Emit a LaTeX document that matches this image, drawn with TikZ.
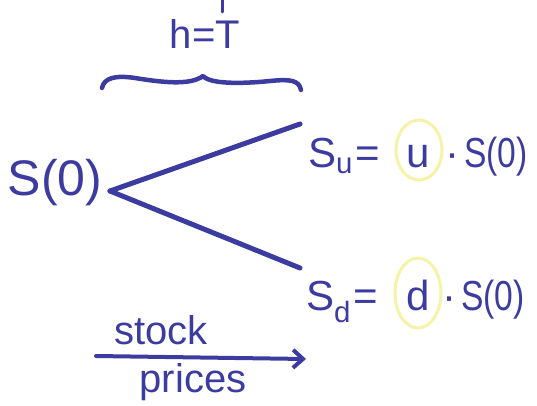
\documentclass[tikz,border=0pt]{standalone}
\usepackage{fontspec}
\setmainfont{Liberation Sans}
\usetikzlibrary{arrows.meta}
\definecolor{ink}{HTML}{3C3CA0}
\definecolor{hlc}{HTML}{F6F2A8}
\newcommand{\narrow}[1]{\scalebox{0.8}[1]{#1}}
\begin{document}
\begin{tikzpicture}[x=1pt,y=-1pt,
  txt/.style={text=ink,inner sep=0pt,font=\fontsize{42}{46}\selectfont},
  big/.style={text=ink,inner sep=0pt,font=\fontsize{50}{54}\selectfont},
  small/.style={text=ink,inner sep=0pt,font=\fontsize{40}{44}\selectfont},
  pen/.style={draw=ink,line width=5pt,line cap=round,line join=round},
  hl/.style={draw=hlc,line width=3pt}]
\useasboundingbox (0,0) rectangle (537,405);
% labels
\node[big] (s0) at (55,183) {S(0)};
\node[small,anchor=base] (h) at (205,48) {h=T};
\coordinate (tickA) at (222,0);
\coordinate (tickB) at (222,12);
\draw[pen,line width=3pt] (tickA) -- (tickB);
% highlights
\draw[hl] (419,150) ellipse (23pt and 30pt);
\draw[hl] (418,293) ellipse (23pt and 35pt);
% upper
\node[txt,anchor=base west] (su) at (308,167) {S\textsubscript{u}};
\node[txt,anchor=base] (eq1) at (368,167) {=};
\node[txt,anchor=base] (u) at (418,167) {u};
\node[txt,anchor=base] (dot1) at (452,167) {·};
\node[txt,anchor=base west] (us) at (464,167) {\narrow{S(0)}};
% lower
\node[txt,anchor=base west] (sd) at (306,310) {S\textsubscript{d}};
\node[txt,anchor=base] (eq2) at (366,310) {=};
\node[txt,anchor=base] (d) at (418,310) {d};
\node[txt,anchor=base] (dot2) at (449,310) {·};
\node[txt,anchor=base west] (ds) at (461,310) {\narrow{S(0)}};
% branches
\coordinate (j) at (110,191);
\coordinate (upEnd) at (300,124);
\coordinate (dnEnd) at (300,268);
\draw[pen] (j) -- (upEnd);
\draw[pen] (j) -- (dnEnd);
% brace (hand drawn)
\coordinate (bl) at (102,88);
\coordinate (btip) at (203,76);
\coordinate (br) at (301,90);
\draw[pen,line width=4.5pt] (bl) .. controls (104,78) and (115,75) .. (135,78)
  .. controls (160,82) and (190,86) .. (btip)
  .. controls (210,84) and (240,84) .. (270,81)
  .. controls (290,79) and (299,80) .. (br);
% stock prices arrow
\coordinate (al) at (96,356);
\coordinate (ar) at (306,359);
\draw[pen,line width=4pt,-{Straight Barb[length=10pt,width=18pt,line width=4pt]}] (al) -- (ar);
\node[small] (stock) at (161,330) {stock};
\node[small] (prices) at (193,382) {prices};
\end{tikzpicture}
\end{document}
